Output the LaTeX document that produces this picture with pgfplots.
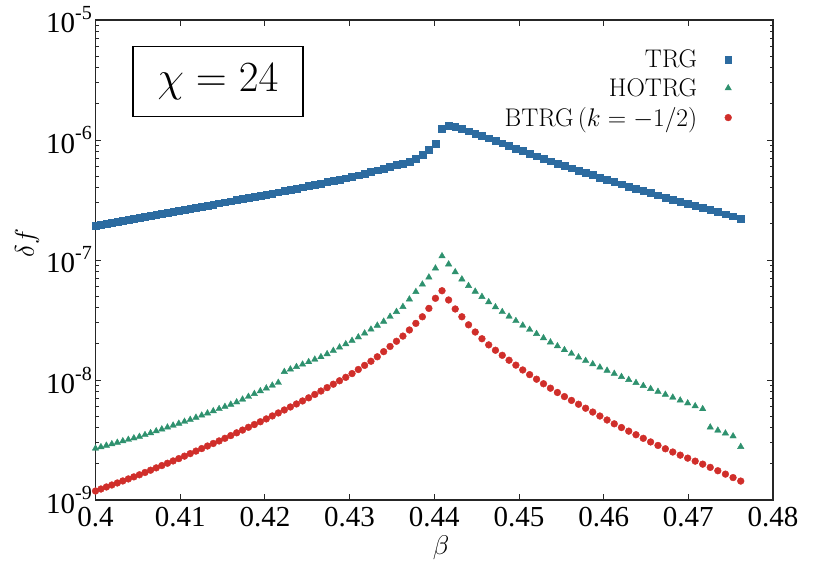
\RequirePackage{fix-cm}
\documentclass[border=0pt]{standalone}
\usepackage{fontspec}
\usepackage{pgfplots}
\usepackage{pgfplotstable}
\pgfplotsset{compat=1.18}
\newfontfamily\tickfont{Liberation Serif}
\definecolor{trgc}{RGB}{44,107,160}
\definecolor{hotrgc}{RGB}{46,145,110}
\definecolor{btrgc}{RGB}{208,46,42}
\newcommand{\ex}[1]{10\raisebox{0.45em}{\fontsize{20}{20}\selectfont #1}}

\pgfplotstableread{
b trg hotrg btrg
0.400000 1.919e-7 2.692e-9 1.189e-9
0.400641 1.956e-7 2.767e-9 1.235e-9
0.401284 1.994e-7 2.847e-9 1.284e-9
0.401929 2.033e-7 2.927e-9 1.334e-9
0.402576 2.073e-7 3.011e-9 1.387e-9
0.403226 2.113e-7 3.098e-9 1.442e-9
0.403877 2.155e-7 3.186e-9 1.499e-9
0.404531 2.197e-7 3.278e-9 1.559e-9
0.405186 2.241e-7 3.373e-9 1.623e-9
0.405844 2.286e-7 3.491e-9 1.696e-9
0.406504 2.331e-7 3.618e-9 1.772e-9
0.407166 2.378e-7 3.751e-9 1.853e-9
0.407830 2.426e-7 3.891e-9 1.937e-9
0.408497 2.475e-7 4.034e-9 2.025e-9
0.409165 2.524e-7 4.184e-9 2.117e-9
0.409836 2.576e-7 4.340e-9 2.214e-9
0.410509 2.628e-7 4.503e-9 2.321e-9
0.411184 2.682e-7 4.672e-9 2.436e-9
0.411862 2.737e-7 4.870e-9 2.557e-9
0.412541 2.793e-7 5.075e-9 2.684e-9
0.413223 2.850e-7 5.290e-9 2.818e-9
0.413907 2.910e-7 5.514e-9 2.959e-9
0.414594 2.970e-7 5.749e-9 3.107e-9
0.415282 3.032e-7 5.995e-9 3.268e-9
0.415973 3.095e-7 6.252e-9 3.444e-9
0.416667 3.160e-7 6.539e-9 3.631e-9
0.417362 3.226e-7 6.894e-9 3.827e-9
0.418060 3.295e-7 7.272e-9 4.037e-9
0.418760 3.364e-7 7.670e-9 4.257e-9
0.419463 3.436e-7 8.093e-9 4.490e-9
0.420168 3.511e-7 8.539e-9 4.741e-9
0.420875 3.595e-7 9.012e-9 5.019e-9
0.421585 3.681e-7 9.513e-9 5.315e-9
0.422297 3.770e-7 1.172e-8 5.628e-9
0.423012 3.861e-7 1.229e-8 5.962e-9
0.423729 3.955e-7 1.288e-8 6.317e-9
0.424448 4.050e-7 1.350e-8 6.694e-9
0.425170 4.150e-7 1.415e-8 7.105e-9
0.425894 4.251e-7 1.484e-8 7.584e-9
0.426621 4.355e-7 1.557e-8 8.095e-9
0.427350 4.462e-7 1.648e-8 8.642e-9
0.428082 4.573e-7 1.756e-8 9.230e-9
0.428816 4.686e-7 1.872e-8 9.858e-9
0.429553 4.803e-7 1.995e-8 1.053e-8
0.430293 4.937e-7 2.128e-8 1.131e-8
0.431034 5.097e-7 2.276e-8 1.224e-8
0.431779 5.264e-7 2.452e-8 1.324e-8
0.432526 5.435e-7 2.642e-8 1.433e-8
0.433276 5.614e-7 2.848e-8 1.562e-8
0.434028 5.799e-7 3.073e-8 1.724e-8
0.434783 5.990e-7 3.375e-8 1.904e-8
0.435540 6.189e-7 3.708e-8 2.103e-8
0.436300 6.394e-7 4.076e-8 2.323e-8
0.437063 6.607e-7 4.708e-8 2.612e-8
0.437828 6.950e-7 5.430e-8 2.965e-8
0.438596 7.499e-7 6.266e-8 3.365e-8
0.439367 8.356e-7 7.178e-8 3.954e-8
0.440141 9.376e-7 8.531e-8 4.797e-8
0.440917 1.250e-6 1.079e-7 5.546e-8
0.441696 1.309e-6 9.226e-8 4.645e-8
0.442478 1.291e-6 7.943e-8 3.908e-8
0.443262 1.238e-6 6.918e-8 3.365e-8
0.444050 1.186e-6 6.095e-8 2.884e-8
0.444840 1.137e-6 5.470e-8 2.512e-8
0.445633 1.089e-6 4.943e-8 2.208e-8
0.446429 1.037e-6 4.467e-8 1.963e-8
0.447227 9.879e-7 4.055e-8 1.770e-8
0.448029 9.406e-7 3.698e-8 1.607e-8
0.448833 8.954e-7 3.388e-8 1.462e-8
0.449640 8.521e-7 3.112e-8 1.331e-8
0.450450 8.110e-7 2.851e-8 1.213e-8
0.451264 7.714e-7 2.630e-8 1.109e-8
0.452080 7.339e-7 2.427e-8 1.016e-8
0.452899 6.979e-7 2.239e-8 9.311e-9
0.453721 6.657e-7 2.065e-8 8.551e-9
0.454545 6.371e-7 1.919e-8 7.871e-9
0.455373 6.097e-7 1.782e-8 7.278e-9
0.456204 5.833e-7 1.660e-8 6.761e-9
0.457038 5.580e-7 1.549e-8 6.281e-9
0.457875 5.337e-7 1.449e-8 5.821e-9
0.458716 5.104e-7 1.358e-8 5.408e-9
0.459559 4.880e-7 1.276e-8 5.012e-9
0.460405 4.666e-7 1.200e-8 4.645e-9
0.461255 4.464e-7 1.130e-8 4.315e-9
0.462107 4.283e-7 1.064e-8 4.018e-9
0.462963 4.109e-7 1.005e-8 3.750e-9
0.463822 3.941e-7 9.484e-9 3.500e-9
0.464684 3.779e-7 8.954e-9 3.266e-9
0.465549 3.623e-7 8.453e-9 3.048e-9
0.466418 3.473e-7 7.998e-9 2.851e-9
0.467290 3.330e-7 7.568e-9 2.673e-9
0.468165 3.191e-7 7.161e-9 2.512e-9
0.469043 3.058e-7 6.776e-9 2.366e-9
0.469925 2.938e-7 6.412e-9 2.234e-9
0.470810 2.825e-7 6.067e-9 2.109e-9
0.471698 2.716e-7 5.741e-9 1.991e-9
0.472590 2.610e-7 4.037e-9 1.871e-9
0.473485 2.508e-7 3.802e-9 1.754e-9
0.474383 2.411e-7 3.598e-9 1.644e-9
0.475285 2.316e-7 3.404e-9 1.538e-9
0.476190 2.224e-7 2.780e-9 1.439e-9
}\datatable

\begin{document}
\begin{tikzpicture}
\begin{axis}[
  scale only axis,
  width=677.5pt, height=480pt,
  xmin=0.4, xmax=0.48,
  ymode=log, ymin=1e-9, ymax=1e-5,
  xtick={0.4,0.41,0.42,0.43,0.44,0.45,0.46,0.47,0.48},
  xticklabels={0.4,0.41,0.42,0.43,0.44,0.45,0.46,0.47,0.48},
  ytick={1e-9,1e-8,1e-7,1e-6,1e-5},
  yticklabels={\ex{-9},\ex{-8},\ex{-7},\ex{-6},\ex{-5}},
  ticklabel style={font=\tickfont\fontsize{29}{32}\selectfont},
  xticklabel style={inner sep=0pt, yshift=-7pt},
  yticklabel style={inner sep=0pt, xshift=-3.5pt},
  xtick pos=both, ytick pos=both,
  xticklabel pos=lower, yticklabel pos=left,
  tick align=inside,
  major tick length=6pt, minor tick length=3.5pt,
  every tick/.style={black!85, line width=0.8pt},
  axis line style={black!85, line width=1.1pt},
  xlabel={$\beta$}, ylabel={$\delta f$},
  label style={font=\fontsize{27}{30}\selectfont},
  xlabel style={at={(axis description cs:0.51,-0.1)}, anchor=center},
  ylabel style={at={(axis description cs:-0.101,0.535)}, anchor=center},
  legend cell align=right,
  legend plot pos=right,
  legend image code/.code={\path[draw=none] (0pt,0pt) -- (34pt,0pt);
    \draw[#1, only marks] plot coordinates {(29pt,0pt)};},
  legend style={draw=none, fill=none, at={(axis description cs:0.946,0.947)},
    anchor=north east, font=\fontsize{25.5}{28}\selectfont,
    /tikz/row sep=5.5pt},
]
\addplot[only marks, mark=square*, mark size=3.4pt, color=trgc] table[x=b, y=trg]{\datatable};
\addlegendentry{TRG}
\addplot[only marks, mark=triangle*, mark size=3.7pt, color=hotrgc] table[x=b, y=hotrg]{\datatable};
\addlegendentry{HOTRG}
\addplot[only marks, mark=*, mark size=3.4pt, color=btrgc] table[x=b, y=btrg]{\datatable};
\addlegendentry{BTRG\,$(k=-1/2)$}
\node[draw, line width=1.1pt, minimum width=170pt, minimum height=70pt, inner sep=0pt,
  font=\fontsize{43}{48}\selectfont] at (axis description cs:0.1808,0.871) {$\chi = 24$};
\end{axis}
\path ([shift={(-95.5pt,-63pt)}]current axis.south west) rectangle ([shift={(41pt,20pt)}]current axis.north east);
\end{tikzpicture}
\end{document}
